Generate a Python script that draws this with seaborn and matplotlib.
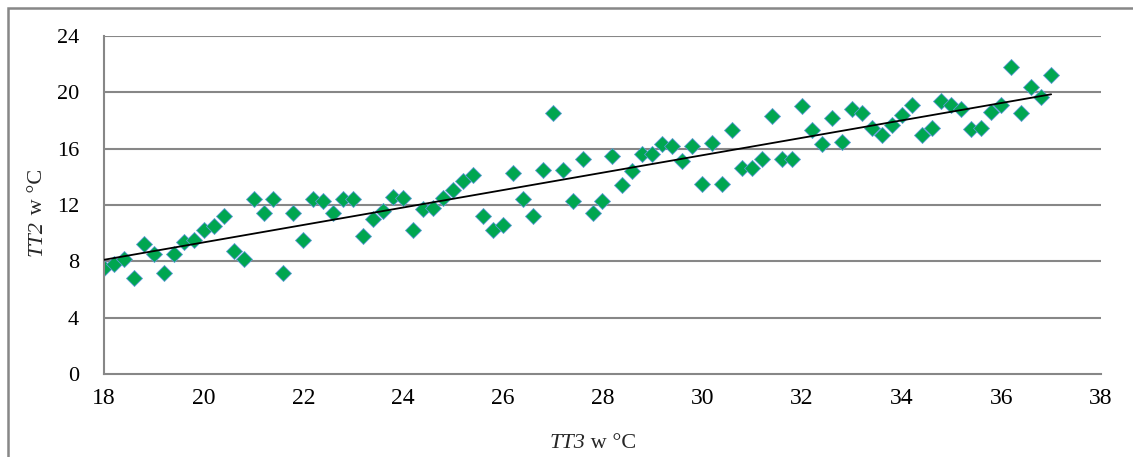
import numpy as np
import pandas as pd
import matplotlib
matplotlib.use("Agg")
import matplotlib.pyplot as plt
import seaborn as sns
from matplotlib.patches import Rectangle

# Temperature readings: TT3 (x) against TT2 (y), both in deg C
tt3 = [18.0, 18.2, 18.4, 18.6, 18.8, 19.0, 19.2, 19.4, 19.6, 19.8,
       20.0, 20.2, 20.4, 20.6, 20.8, 21.0, 21.2, 21.4, 21.6, 21.8,
       22.0, 22.2, 22.4, 22.6, 22.8, 23.0, 23.2, 23.4, 23.6, 23.8,
       24.0, 24.2, 24.4, 24.6, 24.8, 25.0, 25.2, 25.4, 25.6, 25.8,
       26.0, 26.2, 26.4, 26.6, 26.8, 27.0, 27.2, 27.4, 27.6, 27.8,
       28.0, 28.2, 28.4, 28.6, 28.8, 29.0, 29.2, 29.4, 29.6, 29.8,
       30.0, 30.2, 30.4, 30.6, 30.8, 31.0, 31.2, 31.4, 31.6, 31.8,
       32.0, 32.2, 32.4, 32.6, 32.8, 33.0, 33.2, 33.4, 33.6, 33.8,
       34.0, 34.2, 34.4, 34.6, 34.8, 35.0, 35.2, 35.4, 35.6, 35.8,
       36.0, 36.2, 36.4, 36.6, 36.8, 37.0]
tt2 = [7.5, 7.8, 8.2, 6.8, 9.2, 8.5, 7.2, 8.5, 9.4, 9.5,
       10.2, 10.5, 11.2, 8.7, 8.2, 12.4, 11.4, 12.4, 7.2, 11.4,
       9.5, 12.4, 12.3, 11.4, 12.4, 12.4, 9.8, 11.0, 11.6, 12.6,
       12.5, 10.2, 11.7, 11.8, 12.5, 13.1, 13.7, 14.1, 11.2, 10.2,
       10.6, 14.3, 12.4, 11.2, 14.5, 18.5, 14.5, 12.3, 15.3, 11.4,
       12.3, 15.5, 13.4, 14.4, 15.6, 15.6, 16.3, 16.2, 15.1, 16.2,
       13.5, 16.4, 13.5, 17.3, 14.6, 14.6, 15.3, 18.3, 15.3, 15.3,
       19.0, 17.3, 16.3, 18.2, 16.5, 18.8, 18.5, 17.5, 17.0, 17.7,
       18.4, 19.1, 17.0, 17.5, 19.4, 19.1, 18.8, 17.4, 17.5, 18.6,
       19.1, 21.8, 18.5, 20.4, 19.7, 21.2]

x_ticks = [18, 20, 22, 24, 26, 28, 30, 32, 34, 36, 38]
y_ticks = [0, 4, 8, 12, 16, 20, 24]

df = pd.DataFrame({"TT3": tt3, "TT2": tt2})

sns.set_theme(style="white")
plt.rcParams["font.family"] = ["Liberation Serif", "DejaVu Serif"]

grey = "#878787"
W, H = 1133, 457

fig = plt.figure(figsize=(W / 100, H / 100), dpi=100)
ax = fig.add_axes([104 / W, 1 - 374 / H, (1101 - 104) / W, (374 - 36) / H])

# horizontal grid
for yv in y_ticks[1:]:
    ax.axhline(yv, color=grey, lw=1.5, zorder=0)

# linear trend line
sns.regplot(data=df, x="TT3", y="TT2", ax=ax, scatter=False, ci=None,
            truncate=True, line_kws=dict(color="black", lw=1.3, zorder=3))

sns.scatterplot(data=df, x="TT3", y="TT2", ax=ax, marker="D", s=66,
                color="#00A650", edgecolor="#5B9BD5", linewidth=0.6, zorder=2)

ax.set_xlim(18, 38)
ax.set_ylim(0, 24)
ax.set_xticks(x_ticks)
ax.set_yticks(y_ticks)
ax.set_xticklabels([str(v) for v in x_ticks], fontsize=17)
ax.set_yticklabels([str(v) for v in y_ticks], fontsize=16)
ax.set_xlabel("")
ax.set_ylabel("")

for side in ["top", "right"]:
    ax.spines[side].set_visible(False)
for side in ["left", "bottom"]:
    ax.spines[side].set_color(grey)
    ax.spines[side].set_linewidth(1.5)

ax.tick_params(axis="both", which="major", direction="out", color=grey,
               width=1.2, labelcolor="black")
ax.tick_params(axis="y", length=9, pad=9)
ax.tick_params(axis="x", length=7, pad=3)
ax.grid(False)

# axis titles: italic sensor name followed by upright unit
xa = fig.text(585 / W, 1 - 441 / H, "TT3", fontsize=16, style="italic",
              ha="right", va="center_baseline")
ax.annotate(" w °C", xy=(1, 0), xycoords=xa, fontsize=16,
            ha="left", va="bottom")

ya = fig.text(37 / W, 1 - 256 / H, "TT2", fontsize=16, style="italic",
              rotation=90, ha="center", va="bottom")
ax.annotate(" w °C", xy=(1, 1), xycoords=ya, fontsize=16, rotation=90,
            ha="right", va="bottom")

# outer chart border
fig.patches.append(Rectangle((8 / W, -0.1), 1.2, 1.1 - 8 / H,
                             transform=fig.transFigure, fill=False,
                             edgecolor=grey, lw=1.8))

fig.savefig("out.png", dpi=100, facecolor="white")
